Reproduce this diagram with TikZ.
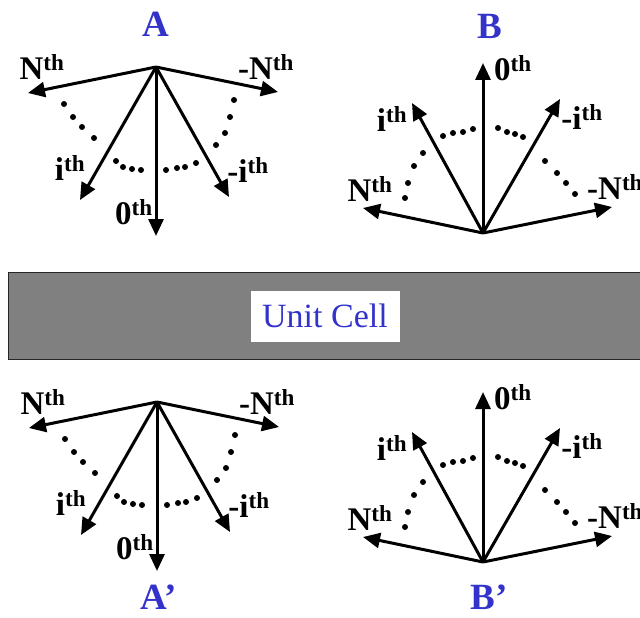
\documentclass[tikz,border=0pt]{standalone}
\usepackage{fontspec}
\setmainfont{Liberation Serif}
\usetikzlibrary{arrows.meta}
\definecolor{lblue}{RGB}{51,51,204}
\definecolor{bargray}{RGB}{128,128,128}
\tikzset{
 arr/.style={line width=3pt, -{Triangle[length=17pt,width=15pt]}},
 lab/.style={font=\fontsize{33}{36}\selectfont\bfseries, inner sep=0pt},
 ttl/.style={font=\fontsize{37}{40}\selectfont\bfseries, text=lblue, inner sep=0pt},
}
\newcommand{\thsup}[1]{#1\textsuperscript{th}}
\newcommand{\fanA}{%
  \coordinate (o) at (0,0);
  \coordinate (n) at (-128,26);
  \coordinate (mn) at (122,25);
  \coordinate (i) at (-76,133);
  \coordinate (mi) at (73,130);
  \coordinate (z) at (0,169);
  \foreach \t in {n,mn,i,mi,z} \draw[arr] (o) -- (\t);
  \node[lab] (ln) at (-114,0) {\thsup{N}};
  \node[lab] (lmn) at (110,0) {\thsup{-N}};
  \node[lab] (li) at (-86,101) {\thsup{i}};
  \node[lab] (lmi) at (92,103) {\thsup{-i}};
  \node[lab] (lz) at (-22,145) {\thsup{0}};
  \foreach \x/\y in {-92/37,-83/50,-74/60,-62/71,-40/94,-33/100,-24/102,-15/103,
                     10/103,21/101,29/100,40/96,60/78,69/66,74/50,78/33}
    \fill (\x,\y) circle (3pt);
}
\newcommand{\fanB}{%
  \coordinate (o) at (0,0);
  \coordinate (z) at (0,-170);
  \coordinate (i) at (-71,-130);
  \coordinate (mi) at (77,-134);
  \coordinate (n) at (-120,-25);
  \coordinate (mn) at (129,-26);
  \foreach \t in {n,mn,i,mi,z} \draw[arr] (o) -- (\t);
  \node[lab] (lz) at (30,-165) {\thsup{0}};
  \node[lab] (li) at (-91,-114) {\thsup{i}};
  \node[lab] (lmi) at (99,-116) {\thsup{-i}};
  \node[lab] (ln) at (-113,-44) {\thsup{N}};
  \node[lab,anchor=west] (lmn) at (104,-46) {\thsup{-N}};
  \foreach \x/\y in {-78/-35,-75/-50,-69/-67,-60/-80,-40/-97,-30/-100,-20/-101,-10/-104,
                     15/-105,24/-101,32/-99,40/-96,62/-72,74/-60,83/-50,92/-39}
    \fill (\x,\y) circle (3pt);
}
\begin{document}
\begin{tikzpicture}[x=1pt,y=-1pt]
\useasboundingbox (0,0) rectangle (640,618);
% bar
\draw[fill=bargray, draw=black!85, line width=1pt] (8,272) rectangle (645,359);
\node[fill=white, minimum width=149pt, minimum height=51pt, inner sep=0pt,
      text=lblue, font=\fontsize{34}{36}\selectfont] (uc) at (325,316) {Unit Cell};
% diagrams
\begin{scope}[shift={(156,67)}, name prefix=A-] \fanA \end{scope}
\begin{scope}[shift={(157,402)}, name prefix=Ap-] \fanA \end{scope}
\begin{scope}[shift={(483,233)}, name prefix=B-] \fanB \end{scope}
\begin{scope}[shift={(483,562)}, name prefix=Bp-] \fanB \end{scope}
% titles
\node[ttl] (tA) at (156,24) {A};
\node[ttl] (tB) at (490,26) {B};
\node[ttl] (tAp) at (159,597) {A’};
\node[ttl] (tBp) at (489,597) {B’};
\end{tikzpicture}
\end{document}
